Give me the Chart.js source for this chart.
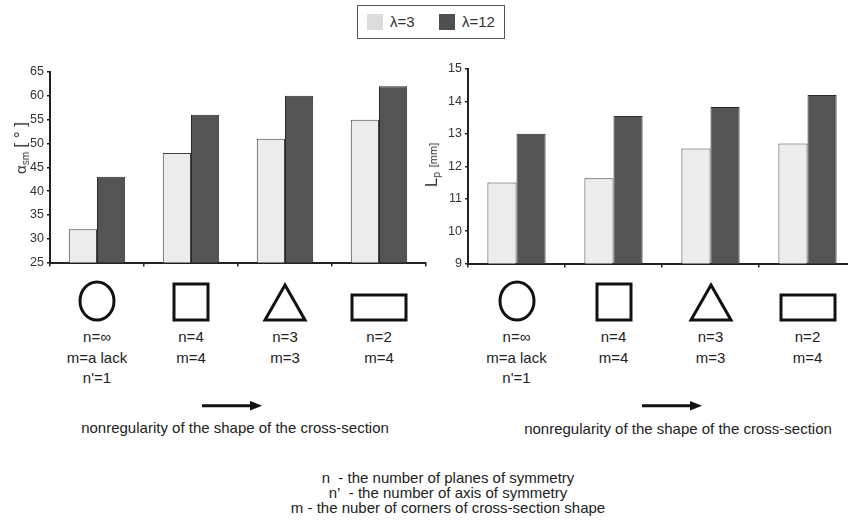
<!DOCTYPE html>
<html>
<head>
<meta charset="utf-8">
<script src="https://cdn.jsdelivr.net/npm/chart.js@4.4.1/dist/chart.umd.min.js"></script>
<style>
  html, body { margin: 0; padding: 0; background: #fff; }
  body { width: 848px; height: 524px; overflow: hidden; position: relative;
         font-family: "Liberation Sans", Arial, sans-serif; color: #222; }
  .abs { position: absolute; }
  .cv { position: absolute; }
  .lbl { position: absolute; text-align: center; font-size: 15px; line-height: 20.5px; white-space: nowrap; transform: translateX(-50%); }
  .ytitle { position: absolute; white-space: nowrap; transform: translate(-50%, -50%) rotate(-90deg); font-size: 15px; color: #333; }
  .ytitle sub { font-size: 10px; vertical-align: -3px; }
  .legend { position: absolute; left: 357px; top: 5px; width: 146px; height: 32px; border: 1px solid #555; background: #fff; }
  .legend .sw { position: absolute; top: 8px; width: 16px; height: 16px; }
  .legend .tx { position: absolute; top: 6px; font-size: 15px; color: #333; line-height: 20px; }
  .note { position: absolute; font-size: 15px; white-space: nowrap; transform: translate(-50%, -50%); }
  .foot { position: absolute; left: 448px; top: 470px; transform: translateX(-50%); text-align: center; font-size: 15px; line-height: 15px; white-space: nowrap; }
</style>
</head>
<body>
<div id="wrapL" class="cv" style="left:0px;top:0px;width:440px;height:273px;"><canvas id="chartL"></canvas></div>
<div id="wrapR" class="cv" style="left:420px;top:0px;width:440px;height:274px;"><canvas id="chartR"></canvas></div>

<div class="legend">
  <div class="sw" style="left:9px;background:#dcdcdc;"></div>
  <div class="tx" style="left:32px;" id="legA"></div>
  <div class="sw" style="left:81px;background:#505050;"></div>
  <div class="tx" style="left:104px;" id="legB"></div>
</div>

<div class="ytitle" style="left:21px;top:148px;">α<sub>sm</sub> <span style="font-size:17px">[ ° ]</span></div>
<div class="ytitle" style="left:432px;top:165px;font-size:17px;">L<sub>p</sub> <span style="font-size:11px">[mm]</span></div>

<svg class="abs" style="left:0;top:395px;" width="848" height="22">
  <defs>
    <marker id="ah" markerWidth="4" markerHeight="4" refX="2" refY="2" orient="auto" markerUnits="strokeWidth">
      <path d="M0,0.4 L4,2 L0,3.6 z" fill="#111"/>
    </marker>
  </defs>
  <line x1="202" y1="10.7" x2="256" y2="10.7" stroke="#111" stroke-width="3" marker-end="url(#ah)"/>
  <line x1="642" y1="10.7" x2="696" y2="10.7" stroke="#111" stroke-width="3" marker-end="url(#ah)"/>
</svg>
<div class="note" style="left:235px;top:427px;">nonregularity of the shape of the cross-section</div>
<div class="note" style="left:678px;top:428px;">nonregularity of the shape of the cross-section</div>

<div class="foot">n&nbsp; - the number of planes of symmetry<br>n’&nbsp; - the number of axis of symmetry<br>m - the nuber of corners of cross-section shape</div>

<script>
// ---- data ----
const categories = ['circle', 'square', 'triangle', 'rectangle'];
const seriesNames = ['λ=3', 'λ=12'];
const shapeLabels = [
  ['n=∞', 'm=a lack', "n'=1"],
  ['n=4', 'm=4'],
  ['n=3', 'm=3'],
  ['n=2', 'm=4']
];
const alphaLambda3 = [32, 48, 51, 55];
const alphaLambda12 = [43, 56, 60, 62];
const lpLambda3 = [11.5, 11.63, 12.55, 12.7];
const lpLambda12 = [13.0, 13.55, 13.83, 14.2];
const alphaTicks = { min: 25, max: 65, step: 5 };
const lpTicks = { min: 9, max: 15, step: 1 };

document.getElementById('legA').textContent = seriesNames[0];
document.getElementById('legB').textContent = seriesNames[1];

function makeChart(id, d3, d12, t, yWidth, pad) {
  return new Chart(document.getElementById(id), {
    type: 'bar',
    data: {
      labels: categories,
      datasets: [
        { label: seriesNames[0], data: d3, backgroundColor: '#ececec', borderColor: '#444', borderWidth: 1,
          categoryPercentage: 0.6, barPercentage: 1.0 },
        { label: seriesNames[1], data: d12, backgroundColor: '#545454', borderColor: '#2a2a2a', borderWidth: 1,
          categoryPercentage: 0.6, barPercentage: 1.0 }
      ]
    },
    options: {
      responsive: true,
      maintainAspectRatio: false,
      animation: false,
      events: [],
      layout: { padding: pad },
      plugins: { legend: { display: false }, tooltip: { enabled: false } },
      scales: {
        x: {
          grid: { display: true, drawOnChartArea: false, offset: true, tickLength: 4, color: '#222', lineWidth: 1.5 },
          border: { display: true, color: '#222', width: 2 },
          ticks: { display: false },
          afterFit: s => { s.height = 10; }
        },
        y: {
          min: t.min, max: t.max,
          grid: { display: true, drawOnChartArea: false, tickLength: 3, color: '#222', lineWidth: 1.5 },
          border: { display: true, color: '#222', width: 2 },
          ticks: { stepSize: t.step, color: '#333', padding: 3,
                   font: { family: '"Liberation Sans", Arial, sans-serif', size: 12.5 } },
          afterFit: s => { s.width = yWidth; }
        }
      }
    }
  });
}

const chartL = makeChart('chartL', alphaLambda3, alphaLambda12, alphaTicks, 50, { top: 72, right: 14, left: 0, bottom: 0 });
const chartR = makeChart('chartR', lpLambda3, lpLambda12, lpTicks, 48, { top: 69, right: 4, left: 0, bottom: 0 });

function shapeSvg(kind) {
  const W = 60, H = 44;
  let inner = '';
  if (kind === 'circle') inner = '<ellipse cx="30" cy="22" rx="17" ry="19" fill="none" stroke="#111" stroke-width="3"/>';
  if (kind === 'square') inner = '<rect x="13" y="5" width="34" height="36" fill="none" stroke="#111" stroke-width="3"/>';
  if (kind === 'triangle') inner = '<polygon points="30,6 50,41 10,41" fill="none" stroke="#111" stroke-width="3" stroke-linejoin="miter"/>';
  if (kind === 'rectangle') inner = '<rect x="3" y="16" width="54" height="25" fill="none" stroke="#111" stroke-width="3"/>';
  return '<svg width="' + W + '" height="' + H + '">' + inner + '</svg>';
}

function addShapes(chart, offsetX) {
  categories.forEach((c, i) => {
    const cx = offsetX + chart.scales.x.getPixelForValue(i);
    const s = document.createElement('div');
    s.className = 'abs';
    s.style.left = (cx - 30) + 'px';
    s.style.top = '279px';
    s.style.width = '60px';
    s.style.height = '44px';
    s.innerHTML = shapeSvg(c);
    document.body.appendChild(s);
    const l = document.createElement('div');
    l.className = 'lbl';
    l.style.left = cx + 'px';
    l.style.top = '327px';
    l.innerHTML = shapeLabels[i].map(t => t.replace(/&/g, '&amp;')).join('<br>');
    document.body.appendChild(l);
  });
}
addShapes(chartL, 0);
addShapes(chartR, 420);
</script>
</body>
</html>
